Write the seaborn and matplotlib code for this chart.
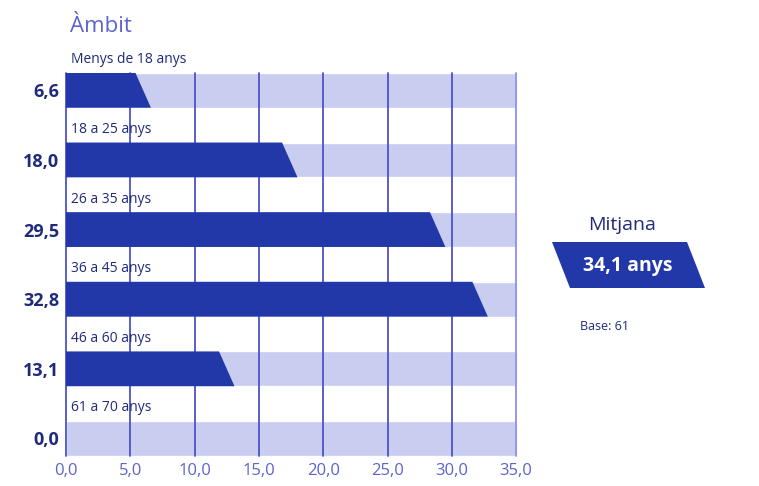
import matplotlib
matplotlib.use("Agg")
import matplotlib.pyplot as plt
from matplotlib.patches import Polygon
import pandas as pd
import seaborn as sns

# data
groups = ["Menys de 18 anys", "18 a 25 anys", "26 a 35 anys",
          "36 a 45 anys", "46 a 60 anys", "61 a 70 anys"]
values = [6.6, 18.0, 29.5, 32.8, 13.1, 0.0]
value_labels = ["6,6", "18,0", "29,5", "32,8", "13,1", "0,0"]
x_ticks = [0, 5, 10, 15, 20, 25, 30, 35]
x_tick_labels = ["0,0", "5,0", "10,0", "15,0", "20,0", "25,0", "30,0", "35,0"]
x_max = 35
mean_text = "34,1 anys"
base_text = "Base: 61"

BAR = "#2338a8"
BAND = "#c9cdef"
GRID = "#4b52cc"
NAVY = "#1f2a7a"
LIGHT = "#5b64cc"

sns.set_style("white")
plt.rcParams["font.family"] = ["Open Sans", "DejaVu Sans"]

df = pd.DataFrame({"group": groups, "value": values, "full": [x_max] * len(groups)})

fig = plt.figure(figsize=(7.59, 4.86), dpi=100)
ax = fig.add_axes([0.087, 0.062, 0.593, 0.788])

# light background bands
sns.barplot(data=df, x="full", y="group", color=BAND, width=0.5, orient="h",
            saturation=1, ax=ax, zorder=0)
n_band = len(ax.patches)

for xt in x_ticks:
    ax.axvline(xt, color=GRID if xt < x_max else "#8b8ff0", lw=1.3, zorder=1,
               clip_on=False)

# value bars
sns.barplot(data=df, x="value", y="group", color=BAR, width=0.5, orient="h",
            saturation=1, ax=ax, zorder=2)

# turn the bars into shapes with a slanted end
slant = 1.2
for p in ax.patches[n_band:]:
    w = p.get_width()
    y0 = p.get_y()
    h = p.get_height()
    p.set_visible(False)
    if w <= 0:
        continue
    poly = Polygon([(0, y0), (max(w - slant, 0), y0), (w, y0 + h), (0, y0 + h)],
                   closed=True, facecolor=BAR, edgecolor="none", zorder=2)
    ax.add_patch(poly)

ax.set_xlim(0, x_max)
ax.set_ylim(len(groups) - 0.75, -0.25)
ax.set_xticks(x_ticks)
ax.set_xticklabels(x_tick_labels, color=LIGHT, fontsize=12)
ax.set_yticks(range(len(groups)))
ax.set_yticklabels(value_labels, color=NAVY, fontsize=13, fontweight="bold")
ax.tick_params(axis="both", length=0, pad=5)
ax.set_xlabel("")
ax.set_ylabel("")
for s in ax.spines.values():
    s.set_visible(False)

# group labels above each band
for i, g in enumerate(groups):
    ax.text(0.4, i - 0.33, g, color=NAVY, fontsize=10, va="bottom", ha="left",
            clip_on=False, zorder=3)

fig.text(70 / 759, 1 - 27 / 486, "Àmbit", color=LIGHT, fontsize=16,
         va="center", ha="left")

# mean box on the right
fig.text(622 / 759, 1 - 225 / 486, "Mitjana", color=NAVY, fontsize=14,
         va="center", ha="center")
box = Polygon([(552 / 759, 1 - 242 / 486), (687 / 759, 1 - 242 / 486),
               (705 / 759, 1 - 288 / 486), (570 / 759, 1 - 288 / 486)],
              closed=True, transform=fig.transFigure, facecolor=BAR,
              edgecolor="none")
fig.patches.append(box)
fig.text(628 / 759, 1 - 266 / 486, mean_text, color="white", fontsize=14,
         fontweight="bold", va="center", ha="center")
fig.text(580 / 759, 1 - 327 / 486, base_text, color=NAVY, fontsize=9,
         va="center", ha="left")

fig.savefig("out.png", dpi=100)
